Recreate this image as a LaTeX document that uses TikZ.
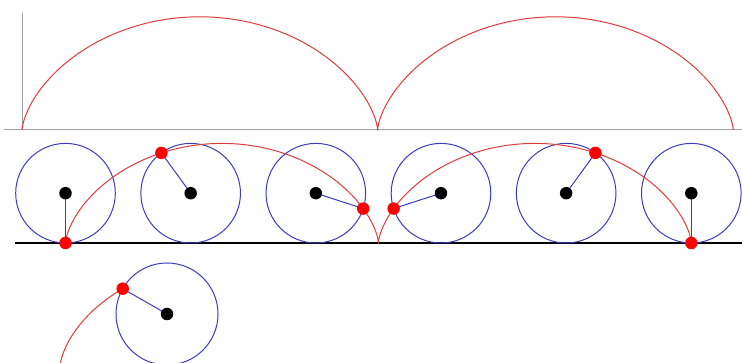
\documentclass[tikz,border=0pt]{standalone}
\definecolor{curvered}{RGB}{222,60,60}
\definecolor{wheelblue}{RGB}{60,60,190}
\definecolor{axisgray}{RGB}{160,160,160}
\tikzset{
  axisline/.style={draw=axisgray, line width=1pt},
  groundline/.style={draw=black, line width=1.1pt},
  cyc/.style={draw=curvered, line width=1pt},
  wheel/.style={draw=wheelblue, line width=1pt},
  reddot/.style={circle, fill=red, inner sep=0pt, minimum size=12.5pt},
  blackdot/.style={circle, fill=black, inner sep=0pt, minimum size=12.5pt}
}
\begin{document}
\begin{tikzpicture}[x=1pt,y=-1pt]
\useasboundingbox (0,0) rectangle (742,363);
\clip (0,0) rectangle (742,363);
% top panel
\coordinate (axL) at (4,130);
\coordinate (axR) at (742,130);
\coordinate (axO) at (22,130);
\coordinate (axT) at (22,13);
\draw[axisline] (axL) -- (axR);
\draw[axisline] (axO) -- (axT);
\draw[cyc] plot[domain=0:12.566, samples=300, variable=\t]
  ({22+56.6*(\t-sin(\t r))},{130-56.6*(1-cos(\t r))});
% middle panel
\coordinate (gL) at (15,243);
\coordinate (gR) at (742,243);
\draw[groundline] (gL) -- (gR);
\foreach \k in {0,...,5}{
  \pgfmathsetmacro\th{2.513274*\k}
  \pgfmathsetmacro\cx{65.5+49.8*\th}
  \pgfmathsetmacro\px{\cx-49.8*sin(\th r)}
  \pgfmathsetmacro\py{193.2+49.8*cos(\th r)}
  \coordinate (c\k) at (\cx,193.2);
  \coordinate (p\k) at (\px,\py);
  \draw[wheel] (c\k) circle[radius=49.8];
  \draw[wheel] (c\k) -- (p\k);
}
\draw[cyc] plot[domain=0:12.566, samples=300, variable=\t]
  ({65.5+49.8*(\t-sin(\t r))},{243-49.8*(1-cos(\t r))});
\foreach \k in {0,...,5}{
  \node[blackdot] (cd\k) at (c\k) {};
  \node[reddot] (pd\k) at (p\k) {};
}
% bottom panel
\pgfmathsetmacro\bth{2.09}
\pgfmathsetmacro\bpx{60.4+51*(\bth-sin(\bth r))}
\pgfmathsetmacro\bpy{365-51*(1-cos(\bth r))}
\coordinate (bc) at (167,314);
\coordinate (bp) at (\bpx,\bpy);
\draw[wheel] (bc) circle[radius=51];
\draw[wheel] (bc) -- (bp);
\draw[cyc] plot[domain=0:2.09, samples=100, variable=\t]
  ({60.4+51*(\t-sin(\t r))},{365-51*(1-cos(\t r))});
\node[blackdot] (bcd) at (bc) {};
\node[reddot] (bpd) at (bp) {};
\end{tikzpicture}
\end{document}
